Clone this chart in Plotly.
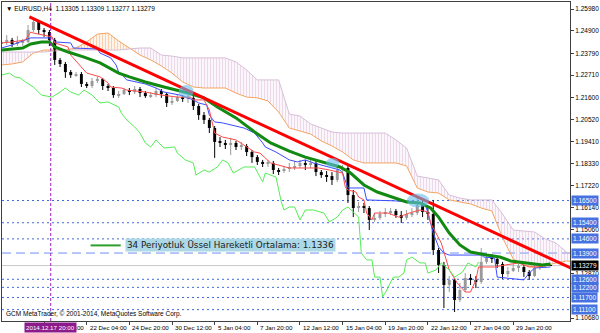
import plotly.graph_objects as go

# ---------------- data ----------------
symbol_title = "\u25BC EURUSD,H4  1.13305 1.13309 1.13277 1.13279"
copyright_txt = "GCM MetaTrader, \u00A9 2001-2014, MetaQuotes Software Corp."
legend_txt = "34 Periyotluk \u00DCssel Hareketli Ortalama: 1.1336"

# candle bar index (4H bars, 2-bar steps)
bar_idx = list(range(0, 208, 2))
open_ = [1.2425, 1.2435, 1.2445, 1.2425, 1.2430, 1.2435, 1.2494, 1.2534, 1.2494, 1.2484,
         1.2445, 1.2346, 1.2326, 1.2286, 1.2271, 1.2276, 1.2227, 1.2217, 1.2242, 1.2252,
         1.2217, 1.2207, 1.2172, 1.2177, 1.2197, 1.2187, 1.2202, 1.2182, 1.2167, 1.2172,
         1.2192, 1.2177, 1.2133, 1.2143, 1.2162, 1.2153, 1.2158, 1.2118, 1.2073, 1.2049,
         1.2009, 1.1940, 1.1935, 1.1925, 1.1935, 1.1915, 1.1920, 1.1890, 1.1865, 1.1841,
         1.1831, 1.1836, 1.1801, 1.1796, 1.1806, 1.1811, 1.1821, 1.1836, 1.1826, 1.1836,
         1.1791, 1.1776, 1.1771, 1.1752, 1.1801, 1.1811, 1.1677, 1.1613, 1.1623, 1.1613,
         1.1554, 1.1564, 1.1583, 1.1593, 1.1598, 1.1578, 1.1564, 1.1583, 1.1588, 1.1628,
         1.1593, 1.1583, 1.1405, 1.1331, 1.1232, 1.1257, 1.1158, 1.1207, 1.1267, 1.1257,
         1.1247, 1.1346, 1.1366, 1.1361, 1.1336, 1.1286, 1.1301, 1.1316, 1.1321, 1.1296,
         1.1276, 1.1316, 1.1326, 1.13305]
high_ = [1.2460, 1.2469, 1.2455, 1.2464, 1.2450, 1.2519, 1.2554, 1.2544, 1.2504, 1.2494,
         1.2455, 1.2356, 1.2336, 1.2296, 1.2286, 1.2286, 1.2237, 1.2257, 1.2262, 1.2257,
         1.2227, 1.2217, 1.2192, 1.2207, 1.2207, 1.2217, 1.2212, 1.2192, 1.2187, 1.2207,
         1.2202, 1.2182, 1.2162, 1.2177, 1.2172, 1.2172, 1.2167, 1.2128, 1.2088, 1.2059,
         1.2019, 1.1964, 1.1950, 1.1960, 1.1945, 1.1940, 1.1930, 1.1900, 1.1875, 1.1851,
         1.1851, 1.1846, 1.1811, 1.1821, 1.1836, 1.1846, 1.1851, 1.1851, 1.1851, 1.1846,
         1.1801, 1.1796, 1.1791, 1.1826, 1.1826, 1.1821, 1.1702, 1.1643, 1.1638, 1.1623,
         1.1588, 1.1598, 1.1613, 1.1613, 1.1608, 1.1598, 1.1603, 1.1613, 1.1667, 1.1653,
         1.1618, 1.1653, 1.1415, 1.1346, 1.1276, 1.1267, 1.1242, 1.1291, 1.1286, 1.1276,
         1.1415, 1.1390, 1.1385, 1.1370, 1.1346, 1.1321, 1.1336, 1.1336, 1.1331, 1.1306,
         1.1331, 1.1341, 1.1341, 1.13309]
low_ = [1.2410, 1.2420, 1.2410, 1.2415, 1.2415, 1.2430, 1.2484, 1.2474, 1.2460, 1.2415,
        1.2321, 1.2311, 1.2257, 1.2257, 1.2262, 1.2212, 1.2207, 1.2207, 1.2232, 1.2197,
        1.2192, 1.2158, 1.2158, 1.2172, 1.2172, 1.2177, 1.2162, 1.2158, 1.2158, 1.2162,
        1.2158, 1.2113, 1.2123, 1.2138, 1.2138, 1.2133, 1.2098, 1.2049, 1.2029, 1.1984,
        1.1861, 1.1915, 1.1905, 1.1875, 1.1900, 1.1900, 1.1870, 1.1836, 1.1826, 1.1816,
        1.1816, 1.1781, 1.1776, 1.1786, 1.1791, 1.1801, 1.1811, 1.1801, 1.1811, 1.1771,
        1.1762, 1.1742, 1.1727, 1.1742, 1.1786, 1.1638, 1.1568, 1.1593, 1.1588, 1.1504,
        1.1544, 1.1554, 1.1568, 1.1578, 1.1564, 1.1539, 1.1554, 1.1568, 1.1578, 1.1568,
        1.1554, 1.1380, 1.1291, 1.1118, 1.1197, 1.1098, 1.1148, 1.1197, 1.1232, 1.1217,
        1.1237, 1.1336, 1.1341, 1.1316, 1.1262, 1.1272, 1.1296, 1.1296, 1.1272, 1.1257,
        1.1272, 1.1306, 1.1316, 1.13277]
close_ = [1.2435, 1.2445, 1.2425, 1.2430, 1.2435, 1.2494, 1.2534, 1.2494, 1.2484, 1.2445,
          1.2346, 1.2326, 1.2286, 1.2271, 1.2276, 1.2227, 1.2217, 1.2242, 1.2252, 1.2217,
          1.2207, 1.2172, 1.2177, 1.2197, 1.2187, 1.2202, 1.2182, 1.2167, 1.2172, 1.2192,
          1.2177, 1.2133, 1.2143, 1.2162, 1.2153, 1.2158, 1.2118, 1.2073, 1.2049, 1.2009,
          1.1940, 1.1935, 1.1925, 1.1935, 1.1915, 1.1920, 1.1890, 1.1865, 1.1841, 1.1831,
          1.1836, 1.1801, 1.1796, 1.1806, 1.1811, 1.1821, 1.1836, 1.1826, 1.1836, 1.1791,
          1.1776, 1.1771, 1.1752, 1.1801, 1.1811, 1.1677, 1.1613, 1.1623, 1.1613, 1.1554,
          1.1564, 1.1583, 1.1593, 1.1598, 1.1578, 1.1564, 1.1583, 1.1588, 1.1628, 1.1593,
          1.1583, 1.1405, 1.1331, 1.1232, 1.1257, 1.1158, 1.1207, 1.1267, 1.1257, 1.1247,
          1.1346, 1.1366, 1.1361, 1.1336, 1.1286, 1.1301, 1.1316, 1.1321, 1.1296, 1.1276,
          1.1316, 1.1326, 1.1331, 1.13279]

# EMA 34
ema_idx = [0, 8, 11, 15, 18, 20, 25, 31, 37, 44, 48, 54, 61, 70, 76, 81, 88, 95, 101, 108,
           114, 122, 127, 131, 136, 141, 147, 152, 157, 161, 164, 168, 172, 176, 182, 187,
           191, 198, 203, 206]
ema_val = [1.2395, 1.2405, 1.2425, 1.2435, 1.2435, 1.2410, 1.2385, 1.2360, 1.2331, 1.2281,
           1.2262, 1.2237, 1.2212, 1.2182, 1.2158, 1.2113, 1.2059, 1.1989, 1.1935, 1.1895,
           1.1865, 1.1836, 1.1816, 1.1786, 1.1727, 1.1692, 1.1667, 1.1643, 1.1638, 1.1613,
           1.1568, 1.1489, 1.1430, 1.1395, 1.1380, 1.1370, 1.1351, 1.1341, 1.1331, 1.1336]

# Kijun-sen (blue)
kijun_idx = [0, 4, 11, 19, 20, 26, 27, 36, 37, 41, 43, 44, 46, 47, 54, 58, 61, 67, 72, 74,
             77, 78, 80, 83, 91, 95, 98, 99, 103, 108, 111, 114, 117, 123, 127, 128, 129, 130,
             136, 137, 148, 154, 159, 160, 162, 164, 166, 168, 180, 181, 185, 186, 194, 196,
             198, 200, 206]
kijun_val = [1.2405, 1.2420, 1.2455, 1.2455, 1.2435, 1.2430, 1.2405, 1.2400, 1.2380, 1.2356,
             1.2321, 1.2286, 1.2262, 1.2247, 1.2227, 1.2207, 1.2187, 1.2172, 1.2148, 1.2133,
             1.2123, 1.2073, 1.2039, 1.2034, 1.2009, 1.1984, 1.1935, 1.1915, 1.1890, 1.1851,
             1.1841, 1.1851, 1.1836, 1.1816, 1.1801, 1.1786, 1.1752, 1.1712, 1.1712, 1.1653,
             1.1648, 1.1638, 1.1633, 1.1588, 1.1489, 1.1420, 1.1390, 1.1380, 1.1380, 1.1370,
             1.1366, 1.1271, 1.1257, 1.1257, 1.1291, 1.1316, 1.1321]

# Tenkan-sen (red thin)
tenkan_idx = [0, 4, 9, 11, 12, 16, 19, 20, 25, 26, 27, 30, 32, 37, 40, 41, 45, 47, 54, 60,
              66, 71, 72, 76, 78, 80, 83, 88, 91, 95, 97, 101, 108, 114, 119, 123, 128, 129,
              130, 133, 134, 136, 137, 139, 140, 145, 149, 153, 157, 160, 161, 165, 168, 171,
              174, 176, 178, 179, 185, 189, 194, 198, 201, 206]
tenkan_val = [1.2430, 1.2435, 1.2445, 1.2484, 1.2479, 1.2469, 1.2460, 1.2430, 1.2410, 1.2370,
              1.2356, 1.2311, 1.2281, 1.2262, 1.2232, 1.2212, 1.2207, 1.2197, 1.2187, 1.2172,
              1.2162, 1.2162, 1.2148, 1.2148, 1.2098, 1.1984, 1.1964, 1.1950, 1.1925, 1.1890,
              1.1885, 1.1836, 1.1811, 1.1811, 1.1811, 1.1801, 1.1786, 1.1717, 1.1702, 1.1692,
              1.1667, 1.1653, 1.1588, 1.1554, 1.1588, 1.1588, 1.1568, 1.1588, 1.1603, 1.1593,
              1.1539, 1.1440, 1.1306, 1.1242, 1.1197, 1.1197, 1.1257, 1.1321, 1.1321, 1.1331,
              1.1341, 1.1321, 1.1321, 1.1331]

# Chikou span (light green)
chikou_idx = [0, 3, 5, 7, 9, 12, 15, 19, 22, 24, 26, 29, 31, 34, 37, 40, 44, 45, 47, 50,
              52, 54, 56, 58, 61, 65, 66, 69, 72, 73, 76, 78, 81, 83, 85, 87, 91, 95, 98, 99,
              103, 105, 106, 108, 110, 112, 114, 117, 121, 123, 126, 128, 130, 134, 135, 137,
              139, 140, 142, 143, 144, 147, 149, 151, 152, 154, 157, 159, 160, 163, 165, 168,
              170, 173, 175, 178, 179]
chikou_val = [1.2271, 1.2281, 1.2262, 1.2257, 1.2237, 1.2212, 1.2172, 1.2162, 1.2187, 1.2207,
              1.2187, 1.2172, 1.2197, 1.2172, 1.2133, 1.2138, 1.2113, 1.2083, 1.2049, 1.2014,
              1.1984, 1.1935, 1.1915, 1.1950, 1.1910, 1.1915, 1.1885, 1.1851, 1.1836, 1.1776,
              1.1801, 1.1791, 1.1816, 1.1851, 1.1836, 1.1786, 1.1816, 1.1816, 1.1742, 1.1786,
              1.1766, 1.1643, 1.1603, 1.1618, 1.1618, 1.1554, 1.1603, 1.1603, 1.1588, 1.1544,
              1.1568, 1.1603, 1.1618, 1.1568, 1.1390, 1.1356, 1.1356, 1.1271, 1.1271, 1.1173,
              1.1192, 1.1271, 1.1271, 1.1291, 1.1356, 1.1370, 1.1341, 1.1341, 1.1291, 1.1306,
              1.1341, 1.1306, 1.1271, 1.1296, 1.1341, 1.1321, 1.1346]

# Ichimoku cloud (senkou spans, shifted forward)
cloud_idx = list(range(0, 220, 4))
span_a = [1.2321, 1.2326, 1.2336, 1.2380, 1.2395, 1.2395, 1.2395, 1.2405, 1.2435, 1.2474,
          1.2479, 1.2440, 1.2405, 1.2370, 1.2346, 1.2316, 1.2281, 1.2237, 1.2212, 1.2207,
          1.2207, 1.2207, 1.2182, 1.2162, 1.2158, 1.2143, 1.2088, 1.2009, 1.1994, 1.1979,
          1.1945, 1.1920, 1.1890, 1.1851, 1.1836, 1.1836, 1.1836, 1.1836, 1.1821, 1.1712,
          1.1692, 1.1687, 1.1653, 1.1643, 1.1633, 1.1613, 1.1598, 1.1465, 1.1361, 1.1331,
          1.1321, 1.1326, 1.1341, 1.1351, 1.1346]
span_b = [1.2385, 1.2385, 1.2385, 1.2385, 1.2385, 1.2390, 1.2395, 1.2395, 1.2395, 1.2395,
          1.2395, 1.2395, 1.2400, 1.2405, 1.2405, 1.2370, 1.2365, 1.2356, 1.2356, 1.2356,
          1.2356, 1.2356, 1.2336, 1.2296, 1.2247, 1.2247, 1.2247, 1.2078, 1.2068, 1.2029,
          1.2009, 1.1989, 1.1984, 1.1984, 1.1984, 1.1984, 1.1984, 1.1950, 1.1910, 1.1771,
          1.1762, 1.1752, 1.1677, 1.1662, 1.1653, 1.1653, 1.1653, 1.1583, 1.1504, 1.1499,
          1.1494, 1.1460, 1.1440, 1.1395, 1.1375]

# Trend line anchors
trend_idx = [10.5, 213.5]
trend_val = [1.2559, 1.1316]

# Touch highlights (bar index, price)
touch_idx = [69.3, 124.3, 156.3]
touch_val = [1.2190, 1.1836, 1.1650]
touch_w = [2.8, 2.5, 4.2]      # half width in bars
touch_h = [0.0032, 0.0025, 0.0035]  # half height in price

# Horizontal levels
dotted_levels = [1.16500, 1.15400, 1.14600, 1.12600, 1.12200, 1.11700, 1.11100]
dashed_level = 1.13900
bid = 1.13279
separator_idx = 18.5
separator_label = "2014.12.17 20:00"

price_ticks = [1.25980, 1.24900, 1.23790, 1.22710, 1.21600, 1.20520, 1.19410, 1.18330,
               1.17220, 1.16140, 1.15060, 1.12870, 1.10680]
time_tick_idx = [0, 16, 32, 48, 64, 80, 96, 112, 128, 144, 160, 176, 192]
time_tick_txt = ["12 Dec 2014", "18 Dec 12:00", "22 Dec 04:00", "24 Dec 20:00", "30 Dec 12:00",
                 "5 Jan 04:00", "7 Jan 20:00", "12 Jan 12:00", "15 Jan 04:00", "19 Jan 20:00",
                 "22 Jan 12:00", "27 Jan 04:00", "29 Jan 20:00"]

# ---------------- figure ----------------
FONT = "Liberation Sans"
fig = go.Figure()

# cloud
upper = [max(a, b) for a, b in zip(span_a, span_b)]
fig.add_trace(go.Scatter(x=cloud_idx, y=span_b, mode="lines", line=dict(width=0), hoverinfo="skip"))
fig.add_trace(go.Scatter(x=cloud_idx, y=upper, mode="lines", line=dict(width=0), fill="tonexty",
                         fillcolor="rgba(0,0,0,0)",
                         fillpattern=dict(shape="|", fgcolor="#F4A460", bgcolor="rgba(0,0,0,0)",
                                          size=3, solidity=0.5), hoverinfo="skip"))
fig.add_trace(go.Scatter(x=cloud_idx, y=span_a, mode="lines", line=dict(width=0), hoverinfo="skip"))
fig.add_trace(go.Scatter(x=cloud_idx, y=upper, mode="lines", line=dict(width=0), fill="tonexty",
                         fillcolor="rgba(0,0,0,0)",
                         fillpattern=dict(shape="|", fgcolor="#D8B4D8", bgcolor="rgba(0,0,0,0)",
                                          size=3, solidity=0.5), hoverinfo="skip"))
fig.add_trace(go.Scatter(x=cloud_idx, y=span_a, mode="lines", line=dict(color="#F4A460", width=1)))
fig.add_trace(go.Scatter(x=cloud_idx, y=span_b, mode="lines", line=dict(color="#D8BFD8", width=1)))

# candles: wicks
bull_x, bull_y, bear_x, bear_y = [], [], [], []
for i, o, h, l, c in zip(bar_idx, open_, high_, low_, close_):
    if c >= o:
        bull_x += [i, i, None]; bull_y += [l, h, None]
    else:
        bear_x += [i, i, None]; bear_y += [l, h, None]
fig.add_trace(go.Scatter(x=bull_x, y=bull_y, mode="lines", line=dict(color="#9a9a9a", width=1)))
fig.add_trace(go.Scatter(x=bear_x, y=bear_y, mode="lines", line=dict(color="#000000", width=1)))
# candles: bodies
bases = [min(o, c) for o, c in zip(open_, close_)]
heights = [max(abs(c - o), 0.00012) for o, c in zip(open_, close_)]
colors = ["#9a9a9a" if c >= o else "#000000" for o, c in zip(open_, close_)]
fig.add_trace(go.Bar(x=bar_idx, y=heights, base=bases, width=1.1,
                     marker=dict(color=colors, line=dict(width=0))))

# indicator lines
fig.add_trace(go.Scatter(x=kijun_idx, y=kijun_val, mode="lines", line=dict(color="#3a4cff", width=1)))
fig.add_trace(go.Scatter(x=tenkan_idx, y=tenkan_val, mode="lines", line=dict(color="#ff4a4a", width=1)))
fig.add_trace(go.Scatter(x=chikou_idx, y=chikou_val, mode="lines", line=dict(color="#55ee55", width=1)))
fig.add_trace(go.Scatter(x=ema_idx, y=ema_val, mode="lines", line=dict(color="#128a12", width=3)))
fig.add_trace(go.Scatter(x=trend_idx, y=trend_val, mode="lines", line=dict(color="#ff0000", width=3)))

shapes = []
# touch ellipses
for cx, cy, w, h in zip(touch_idx, touch_val, touch_w, touch_h):
    shapes.append(dict(type="circle", xref="x", yref="y", x0=cx - w, x1=cx + w, y0=cy - h, y1=cy + h,
                       fillcolor="rgba(100,190,235,0.6)", line=dict(width=0), layer="above"))
# horizontal levels
for lv in dotted_levels:
    shapes.append(dict(type="line", xref="paper", yref="y", x0=0, x1=1, y0=lv, y1=lv,
                       line=dict(color="#4169E1", width=1, dash="2px,3px"), layer="below"))
shapes.append(dict(type="line", xref="paper", yref="y", x0=0, x1=1, y0=dashed_level, y1=dashed_level,
                   line=dict(color="#6f8ff0", width=1, dash="9px,5px"), layer="below"))
shapes.append(dict(type="line", xref="paper", yref="y", x0=0, x1=1, y0=bid, y1=bid,
                   line=dict(color="#c8c8c8", width=1), layer="below"))
# period separator
shapes.append(dict(type="line", xref="x", yref="paper", x0=separator_idx, x1=separator_idx, y0=0, y1=1,
                   line=dict(color="#a020c0", width=1, dash="3px,2px"), layer="above"))
# legend sample line
shapes.append(dict(type="line", xref="paper", yref="paper", x0=0.156, x1=0.209, y0=0.237, y1=0.237,
                   line=dict(color="#2e9e2e", width=2)))

annotations = []
annotations.append(dict(xref="paper", yref="paper", x=0.004, y=0.998, xanchor="left", yanchor="top",
                        text=symbol_title, showarrow=False, font=dict(family=FONT, size=6.5, color="#000")))
annotations.append(dict(xref="paper", yref="paper", x=0.004, y=0, xanchor="left", yanchor="bottom",
                        yshift=1, text=copyright_txt, showarrow=False,
                        font=dict(family=FONT, size=6.5, color="#000")))
annotations.append(dict(xref="paper", yref="paper", x=0.216, y=0.237, xanchor="left", yanchor="middle",
                        text=legend_txt, showarrow=False, bgcolor="#add8e6", borderpad=1,
                        font=dict(family="DejaVu Sans", size=8.8, color="#1a1a1a")))
for ti, tt in zip(time_tick_idx, time_tick_txt):
    annotations.append(dict(xref="x", yref="paper", x=ti, y=0, xanchor="left", yanchor="top",
                            xshift=1, yshift=-1, text=tt, showarrow=False,
                            font=dict(family=FONT, size=6.2, color="#000")))
annotations.append(dict(xref="x", yref="paper", x=separator_idx, y=0, xanchor="center", yanchor="top",
                        yshift=-1, text=separator_label, showarrow=False, bgcolor="#8b1a8b", borderpad=1,
                        font=dict(family=FONT, size=6.2, color="#fff")))
for lv in dotted_levels + [dashed_level]:
    annotations.append(dict(xref="paper", yref="y", x=1, y=lv, xanchor="left", yanchor="middle",
                            xshift=1, text=f"{lv:.5f}", showarrow=False, bgcolor="#4671e0", borderpad=1,
                            font=dict(family=FONT, size=6.5, color="#fff")))
annotations.append(dict(xref="paper", yref="y", x=1, y=bid, xanchor="left", yanchor="middle",
                        xshift=1, text=f"{bid:.5f}", showarrow=False, bgcolor="#000", borderpad=1,
                        font=dict(family=FONT, size=6.5, color="#fff")))

fig.update_layout(
    width=600, height=333, margin=dict(l=1, r=29, t=2, b=12),
    paper_bgcolor="#ffffff", plot_bgcolor="#ffffff", showlegend=False,
    shapes=shapes, annotations=annotations,
    xaxis=dict(range=[0.22, 213.3], showgrid=False, zeroline=False, showline=True, mirror=True,
               linecolor="#404040", linewidth=1, ticks="outside", ticklen=3, tickcolor="#404040",
               tickvals=time_tick_idx, showticklabels=False, fixedrange=True),
    yaxis=dict(range=[1.10536, 1.26327], side="right", showgrid=False, zeroline=False, showline=True,
               mirror=True, linecolor="#404040", linewidth=1, ticks="outside", ticklen=3,
               tickcolor="#404040", tickvals=price_ticks, ticktext=[f"{v:.5f}" for v in price_ticks],
               tickfont=dict(family=FONT, size=6.5, color="#000"), fixedrange=True),
)
fig.write_html("out.html")
